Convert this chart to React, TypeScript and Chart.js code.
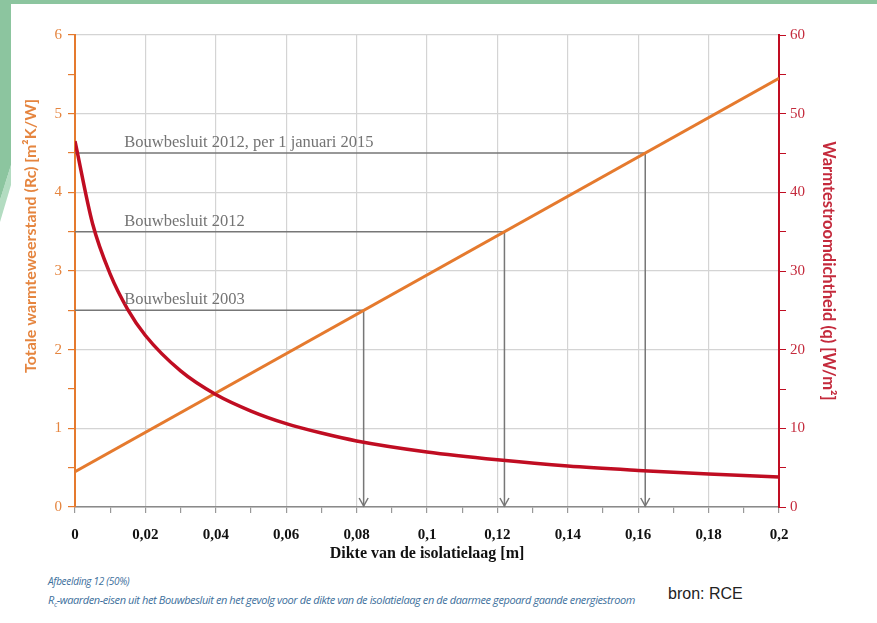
import React, { useEffect, useRef } from "react";
import { Chart, registerables } from "chart.js";

Chart.register(...registerables);

// Dikte van de isolatielaag [m] — sample points
const thickness = [0, 0.005, 0.01, 0.015, 0.02, 0.03, 0.04, 0.05, 0.06, 0.07, 0.08, 0.1, 0.12, 0.14, 0.16, 0.18, 0.2];
// Warmtestroomdichtheid (q) [W/m²]
const heatFlux = [46.5, 36, 29.6, 25.1, 21.8, 17.3, 14.3, 12.2, 10.6, 9.4, 8.4, 7.0, 6.0, 5.2, 4.65, 4.2, 3.8];
// Totale warmteweerstand (Rc) [m²K/W] — straight orange line
const resistanceX = [0, 0.2];
const resistance = [0.45, 5.45];
// Requirements
const reqLabels = ["Bouwbesluit 2003", "Bouwbesluit 2012", "Bouwbesluit 2012, per 1 januari 2015"];
const reqRc = [2.5, 3.5, 4.5];
const reqThickness = [0.082, 0.122, 0.162];
const labelStartX = 0.014;

const ORANGE = "#e57a2e";
const ORANGE_TXT = "#e5853f";
const RED = "#c00d22";
const RED_TXT = "#c42a3c";
const GREY = "#777777";
const GRID = "#d4d4d4";

const fmt = (v: number) => {
  const r = Math.round(v * 100) / 100;
  return String(r).replace(".", ",");
};

const annotPlugin = {
  id: "annot",
  afterDatasetsDraw(chart: any) {
    const { ctx, scales } = chart;
    const xs = scales.x;
    const ys = scales.y;
    ctx.save();
    ctx.strokeStyle = GREY;
    ctx.lineWidth = 1.5;
    reqThickness.forEach((t) => {
      const px = xs.getPixelForValue(t);
      const py = ys.getPixelForValue(0);
      ctx.beginPath();
      ctx.moveTo(px - 4.5, py - 9);
      ctx.lineTo(px, py - 1);
      ctx.lineTo(px + 4.5, py - 9);
      ctx.stroke();
    });
    ctx.fillStyle = "#737373";
    ctx.font = "16.5px 'Liberation Serif', serif";
    ctx.textBaseline = "alphabetic";
    reqLabels.forEach((lab, i) => {
      const px = xs.getPixelForValue(labelStartX);
      const py = ys.getPixelForValue(reqRc[i]);
      ctx.fillText(lab, px, py - 6);
    });
    // left axis title (drawn manually to match its off-centre position)
    ctx.translate(31, 236);
    ctx.rotate(-Math.PI / 2);
    ctx.textAlign = "center";
    ctx.textBaseline = "middle";
    ctx.fillStyle = ORANGE_TXT;
    ctx.font = "bold 16px Lato, 'Open Sans', sans-serif";
    ctx.fillText("Totale warmteweerstand (Rc) [m²K/W]", 0, 0);
    ctx.restore();
  },
};

export default function App() {
  const ref = useRef<HTMLCanvasElement | null>(null);

  useEffect(() => {
    document.body.style.margin = "0";
    const canvas = ref.current!;
    const reqDatasets = reqRc.map((rc, i) => ({
      label: reqLabels[i],
      data: [
        { x: 0, y: rc },
        { x: reqThickness[i], y: rc },
        { x: reqThickness[i], y: 0 },
      ],
      yAxisID: "y",
      borderColor: GREY,
      borderWidth: 1.5,
      pointRadius: 0,
      tension: 0,
      order: 3,
    }));
    const chart = new Chart(canvas, {
      type: "line",
      data: {
        datasets: [
          {
            label: "q",
            data: thickness.map((x, i) => ({ x, y: heatFlux[i] })),
            yAxisID: "y2",
            borderColor: RED,
            borderWidth: 3.5,
            pointRadius: 0,
            cubicInterpolationMode: "monotone",
            order: 1,
          },
          {
            label: "Rc",
            data: resistanceX.map((x, i) => ({ x, y: resistance[i] })),
            yAxisID: "y",
            borderColor: ORANGE,
            borderWidth: 3,
            pointRadius: 0,
            order: 2,
          },
          ...reqDatasets,
        ] as any,
      },
      options: {
        responsive: false,
        animation: false,
        layout: { padding: { left: 10, right: 30, top: 35, bottom: 0 } },
        plugins: { legend: { display: false }, tooltip: { enabled: false } },
        scales: {
          x: {
            type: "linear",
            min: 0,
            max: 0.2,
            afterFit: (s: any) => {
              s.height = 63;
            },
            ticks: {
              stepSize: 0.01,
              autoSkip: false,
              maxRotation: 0,
              padding: 13,
              color: "#111",
              font: { family: "'Liberation Serif', serif", size: 15, weight: "bold" },
              callback: (v: any) => (Math.round(Number(v) * 100) % 2 === 0 ? fmt(Number(v)) : ""),
            },
            grid: {
              color: (c: any) =>
                c.tick && Math.round(c.tick.value * 100) % 2 === 0 ? GRID : "rgba(0,0,0,0)",
              tickColor: "#999",
              tickLength: 6,
              lineWidth: 1.2,
            },
            border: { color: "#8a8a8a", width: 1.5 },
            title: {
              display: true,
              text: "Dikte van de isolatielaag [m]",
              color: "#111",
              font: { family: "'Liberation Serif', serif", size: 16, weight: "bold" },
              padding: { top: 0, bottom: 7 },
            },
          },
          y: {
            position: "left",
            min: 0,
            max: 6,
            afterFit: (s: any) => {
              s.width = 65;
            },
            ticks: {
              stepSize: 0.5,
              autoSkip: false,
              padding: 6,
              color: ORANGE_TXT,
              font: { family: "'Liberation Serif', serif", size: 15 },
              callback: (v: any) => (Number.isInteger(Number(v)) ? String(v) : ""),
            },
            grid: {
              color: (c: any) => (c.tick && Number.isInteger(c.tick.value) ? GRID : "rgba(0,0,0,0)"),
              tickColor: ORANGE,
              tickLength: 7,
              lineWidth: 1.2,
            },
            border: { color: ORANGE, width: 2 },
            title: { display: false },
          },
          y2: {
            position: "right",
            min: 0,
            max: 60,
            afterFit: (s: any) => {
              s.width = 68;
            },
            ticks: {
              stepSize: 5,
              autoSkip: false,
              padding: 4,
              color: RED_TXT,
              font: { family: "'Liberation Serif', serif", size: 15 },
              callback: (v: any) => (Number(v) % 10 === 0 ? String(v) : ""),
            },
            grid: {
              drawOnChartArea: false,
              tickColor: RED,
              tickLength: 7,
            },
            border: { color: RED, width: 2 },
            title: {
              display: true,
              text: "Warmtestroomdichtheid (q) [W/m²]",
              color: RED_TXT,
              font: { family: "Lato, 'Open Sans', sans-serif", size: 16.5, weight: "bold" },
              padding: { top: 9, bottom: 0 },
            },
          },
        },
      } as any,
      plugins: [annotPlugin],
    });
    return () => chart.destroy();
  }, []);

  return (
    <div style={{ position: "relative", width: 877, height: 623, background: "#fff", overflow: "hidden" }}>
      <div
        style={{
          position: "absolute",
          left: 0,
          top: 0,
          width: 877,
          height: 240,
          background: "#b3dcc1",
          clipPath: "polygon(0 200px, 11px 165px, 11px 185px, 0 222px)",
        }}
      />
      <div
        style={{
          position: "absolute",
          left: 0,
          top: 0,
          width: 877,
          height: 240,
          background: "#8cc59f",
          clipPath: "polygon(0 0, 877px 0, 877px 4px, 11px 4px, 11px 165px, 0 200px)",
        }}
      />
      <canvas ref={ref} width={877} height={570} style={{ position: "absolute", left: 0, top: 0 }} />
      <div
        style={{
          position: "absolute",
          left: 48,
          top: 574,
          fontFamily: "'Open Sans', sans-serif",
          fontStyle: "italic",
          fontSize: 10,
          color: "#3d6f9c",
          letterSpacing: "-0.3px",
          whiteSpace: "nowrap",
        }}
      >
        Afbeelding 12 (50%)
      </div>
      <div
        style={{
          position: "absolute",
          left: 48,
          top: 592,
          fontFamily: "'Open Sans', sans-serif",
          fontStyle: "italic",
          fontSize: 11,
          color: "#3d6f9c",
          letterSpacing: "-0.4px",
          whiteSpace: "nowrap",
        }}
      >
        R<sub style={{ fontSize: 7 }}>c</sub>-waarden-eisen uit het Bouwbesluit en het gevolg voor de dikte van de isolatielaag en de daarmee gepoard gaande energiestroom
      </div>
      <div
        style={{
          position: "absolute",
          left: 668,
          top: 585,
          fontFamily: "'Liberation Sans', Arial, sans-serif",
          fontSize: 16,
          color: "#222",
          whiteSpace: "nowrap",
        }}
      >
        bron: RCE
      </div>
    </div>
  );
}
